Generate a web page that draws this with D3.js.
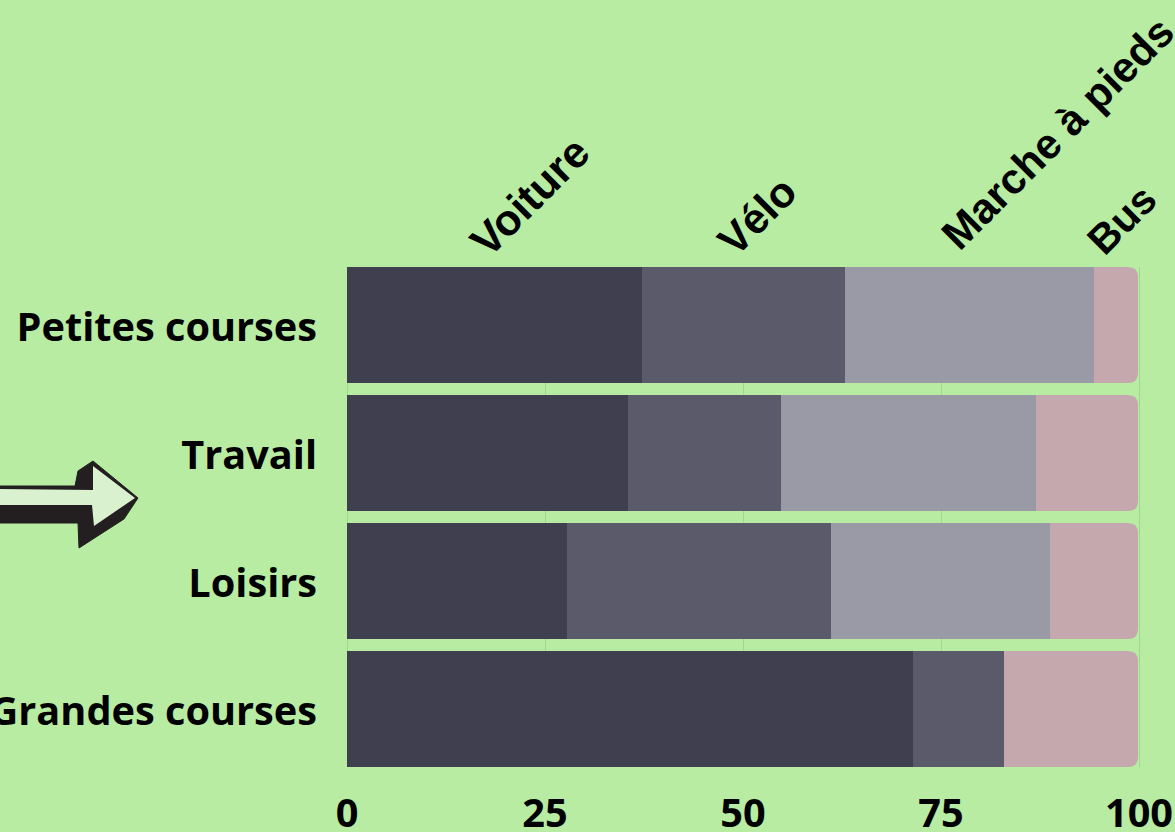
<!DOCTYPE html>
<html>
<head>
<meta charset="utf-8">
<script src="https://cdn.jsdelivr.net/npm/d3@7"></script>
<style>
  html, body { margin: 0; padding: 0; background: #b7eca2; overflow: hidden; }
</style>
</head>
<body>
<div id="chart"></div>
<script>
const categories = ["Petites courses", "Travail", "Loisirs", "Grandes courses"];
const modes = ["Voiture", "Vélo", "Marche à pieds", "Bus"];
const voiture = [37.3, 35.5, 27.8, 71.5];
const velo = [25.6, 19.3, 33.3, 11.5];
const marche = [31.4, 32.2, 27.7, 0];
const bus = [5.7, 13, 11.2, 17];
const ticks = [0, 25, 50, 75, 100];
const colors = ["#3f3f50", "#5a5a6b", "#9a9aa7", "#c5a8ae"];

const dims = { width: 1175, height: 832, left: 347, right: 1139, top: 261, bottom: 773 };

// hand placement of the slanted titles
const titleStyle = [
  { dx: 2, dy: 1, size: 43.5 },
  { dx: 0, dy: 0, size: 42.5 },
  { dx: -2, dy: -6, size: 42.5 },
  { dx: -4, dy: -1, size: 41 }
];

const svg = d3.select("#chart").append("svg")
  .attr("width", dims.width)
  .attr("height", dims.height)
  .style("display", "block");

const xScale = d3.scaleLinear().domain([0, 100]).range([dims.left, dims.right]);
const yScale = d3.scaleBand()
  .domain(categories)
  .range([dims.top, dims.bottom])
  .paddingInner(0.0938)
  .paddingOuter(0.047);

// grid sits behind the bars
svg.append("g").selectAll("line")
  .data(ticks)
  .join("line")
    .attr("x1", d => Math.round(xScale(d)) + 0.5).attr("x2", d => Math.round(xScale(d)) + 0.5)
    .attr("y1", yScale(categories[0])).attr("y2", dims.bottom - 6)
    .attr("stroke", "#a3d690")
    .attr("stroke-width", 1);

const series = [voiture, velo, marche, bus];
const rows = categories.map((c, i) => {
  let x0 = 0;
  return series.map((s, k) => {
    const d = { cat: c, k: k, x0: x0, x1: x0 + s[i] };
    x0 = d.x1;
    return d;
  });
});

// only the last segment gets round corners on its right side
function segment(d) {
  const x0 = Math.round(xScale(d.x0)), x1 = Math.round(xScale(d.x1)) - (d.k === 3 ? 1 : 0);
  const y0 = Math.round(yScale(d.cat)), y1 = y0 + Math.round(yScale.bandwidth());
  const r = d.k === 3 ? 10 : 0;
  const p = d3.path();
  p.moveTo(x0, y0);
  p.lineTo(x1 - r, y0);
  if (r) p.quadraticCurveTo(x1, y0, x1, y0 + r);
  p.lineTo(x1, y1 - r);
  if (r) p.quadraticCurveTo(x1, y1, x1 - r, y1);
  p.lineTo(x0, y1);
  p.closePath();
  return p.toString();
}

svg.append("g").selectAll("path")
  .data(rows.flat().filter(d => d.x1 > d.x0))
  .join("path")
    .attr("d", segment)
    .attr("fill", d => colors[d.k]);

const labelFont = "'Open Sans', 'Noto Sans', sans-serif";

svg.append("g").selectAll("text")
  .data(categories)
  .join("text")
    .attr("x", dims.left - 30)
    .attr("y", d => yScale(d) + yScale.bandwidth() / 2 + 2)
    .attr("dy", "0.35em")
    .attr("text-anchor", "end")
    .attr("font-family", labelFont)
    .attr("font-weight", 700)
    .attr("font-size", 39.7)
    .attr("fill", "#000")
    .text(d => d);

svg.append("g").selectAll("text")
  .data(ticks)
  .join("text")
    .attr("x", d => xScale(d))
    .attr("y", 827)
    .attr("text-anchor", "middle")
    .attr("font-family", labelFont)
    .attr("font-weight", 700)
    .attr("font-size", 39.7)
    .attr("fill", "#000")
    .text(d => d);

// column titles sit at the middle of the first row's segments, slanted
svg.append("g").selectAll("text")
  .data(rows[0])
  .join("text")
    .attr("transform", d => {
      const t = titleStyle[d.k];
      return `translate(${xScale((d.x0 + d.x1) / 2) - 8 + t.dx},${yScale(d.cat) - 9 + t.dy}) rotate(-45)`;
    })
    .attr("font-family", "'Liberation Sans', Arial, sans-serif")
    .attr("font-weight", 700)
    .attr("font-size", d => titleStyle[d.k].size)
    .attr("fill", "#000")
    .text(d => modes[d.k]);

// arrow decoration on the left edge
const arrow = svg.append("g");
arrow.append("path")
  .attr("d", "M0,486 L75,486 L78,471 L93,461 L138,498 L124,519 L79,548 L78,523 L0,523 Z")
  .attr("fill", "#231f20")
  .attr("stroke", "#231f20")
  .attr("stroke-width", 1)
  .attr("stroke-linejoin", "round");
arrow.append("path")
  .attr("d", "M0,489 L93,490 L93,466 L135,498 L94,526 L92,505 L0,505 Z")
  .attr("fill", "#d9f1cf");
</script>
</body>
</html>
